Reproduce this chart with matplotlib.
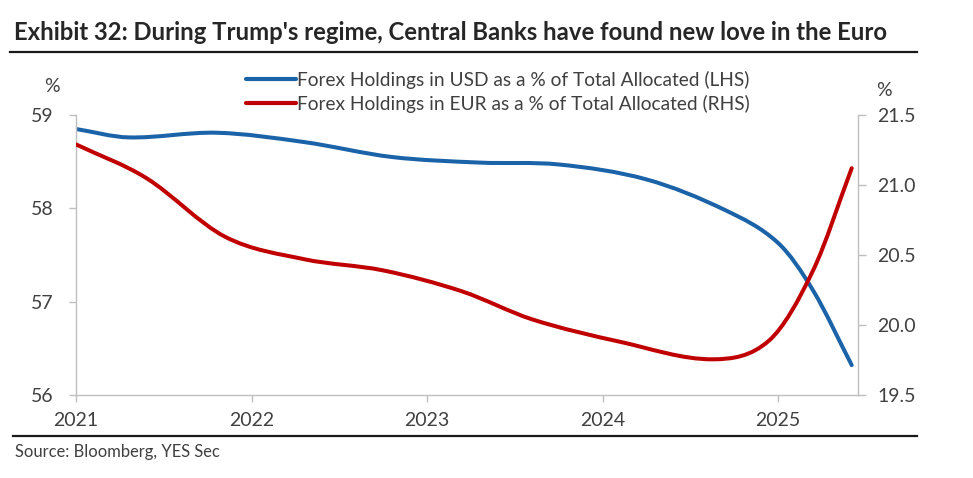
import matplotlib
matplotlib.use("Agg")
import numpy as np
import matplotlib.pyplot as plt
from matplotlib.lines import Line2D
from matplotlib.path import Path
from matplotlib.patches import PathPatch

# ---- data ----
usd_x = [2021.00, 2021.30, 2021.80, 2022.30, 2022.80, 2023.30, 2023.75,
         2024.25, 2024.70, 2025.00, 2025.20, 2025.42]
usd_y = [58.85, 58.76, 58.81, 58.71, 58.55, 58.49, 58.47,
         58.31, 57.98, 57.63, 57.12, 56.32]

eur_x = [2021.00, 2021.40, 2021.85, 2022.30, 2022.75, 2023.20, 2023.60,
         2024.10, 2024.63, 2024.95, 2025.20, 2025.42]
eur_y = [21.29, 21.05, 20.63, 20.47, 20.39, 20.24, 20.04,
         19.88, 19.755, 19.89, 20.39, 21.12]

year_ticks = [2021, 2022, 2023, 2024, 2025]
lhs_ticks = [56, 57, 58, 59]
rhs_ticks = [19.5, 20.0, 20.5, 21.0, 21.5]

title = "Exhibit 32: During Trump's regime, Central Banks have found new love in the Euro"
usd_label = "Forex Holdings in USD as a % of Total Allocated (LHS)"
eur_label = "Forex Holdings in EUR as a % of Total Allocated (RHS)"
source = "Source: Bloomberg, YES Sec"

BLUE = "#1b63a8"
RED = "#c00000"
GREY_TXT = "#404040"
SPINE = "#bfbfbf"

plt.rcParams['font.family'] = ['Lato', 'DejaVu Sans']


def smooth_path(xs, ys):
    """Smoothed (Excel-like) line through the data points as cubic Bezier segments."""
    x = np.asarray(xs, float)
    y = np.asarray(ys, float)
    n = len(x)
    m = np.zeros(n)
    m[0] = (y[1] - y[0]) / (x[1] - x[0])
    m[-1] = (y[-1] - y[-2]) / (x[-1] - x[-2])
    for i in range(1, n - 1):
        m[i] = (y[i + 1] - y[i - 1]) / (x[i + 1] - x[i - 1])
    verts = [(x[0], y[0])]
    codes = [Path.MOVETO]
    for i in range(n - 1):
        h = x[i + 1] - x[i]
        verts += [(x[i] + h / 3, y[i] + m[i] * h / 3),
                  (x[i + 1] - h / 3, y[i + 1] - m[i + 1] * h / 3),
                  (x[i + 1], y[i + 1])]
        codes += [Path.CURVE4] * 3
    return Path(verts, codes)


W, H = 973, 478
fig = plt.figure(figsize=(W / 100, H / 100), dpi=100)
ax = fig.add_axes([76 / W, 1 - 395 / H, (858 - 76) / W, (395 - 115) / H])
ax2 = ax.twinx()

ax.add_patch(PathPatch(smooth_path(usd_x, usd_y), facecolor='none', edgecolor=BLUE,
                       lw=2.9, capstyle='round', joinstyle='round'))
ax2.add_patch(PathPatch(smooth_path(eur_x, eur_y), facecolor='none', edgecolor=RED,
                        lw=2.9, capstyle='round', joinstyle='round'))

ax.set_xlim(2021.0, 2021 + (858 - 76) / 175.5)
ax.set_ylim(56, 59)
ax2.set_ylim(19.5, 21.5)
ax.set_xticks(year_ticks)
ax.set_xticklabels([str(y) for y in year_ticks])
ax.set_yticks(lhs_ticks)
ax.set_yticklabels([str(v) for v in lhs_ticks])
ax2.set_yticks(rhs_ticks)
ax2.set_yticklabels([f"{v:.1f}" for v in rhs_ticks])

for a in (ax, ax2):
    a.spines['top'].set_visible(False)
    for s in ('left', 'right', 'bottom'):
        a.spines[s].set_color(SPINE)
        a.spines[s].set_linewidth(1.0)
ax.spines['right'].set_visible(False)
ax2.spines['left'].set_visible(False)
ax2.spines['bottom'].set_visible(False)

ax.tick_params(axis='x', colors=SPINE, length=5, width=1, labelcolor=GREY_TXT,
               labelsize=14, pad=7)
ax.tick_params(axis='y', colors=SPINE, length=5, width=1, labelcolor=GREY_TXT,
               labelsize=14, pad=11)
ax2.tick_params(axis='y', colors=SPINE, length=6, width=1, labelcolor=GREY_TXT,
                labelsize=14, pad=8)

# % unit labels
fig.text(52 / W, 1 - 87 / H, "%", ha='center', va='center', fontsize=14, color=GREY_TXT)
fig.text(884 / W, 1 - 90 / H, "%", ha='center', va='center', fontsize=14, color=GREY_TXT)

# legend
handles = [Line2D([0], [0], color=BLUE, lw=3, solid_capstyle='round'),
           Line2D([0], [0], color=RED, lw=3, solid_capstyle='round')]
leg = fig.legend(handles, [usd_label, eur_label], loc='center left',
                 bbox_to_anchor=(246 / W, 1 - 92 / H), frameon=False,
                 fontsize=13.8, handlelength=2.6, handletextpad=0.08,
                 labelspacing=0.3, borderpad=0, borderaxespad=0)
for t in leg.get_texts():
    t.set_color(GREY_TXT)

# title and rules
fig.text(14 / W, 1 - 32 / H, title, ha='left', va='center', fontsize=17.2,
         fontweight='bold', color="#262626")
fig.add_artist(Line2D([10 / W, 917 / W], [1 - 52 / H, 1 - 52 / H], color='#1a1a1a', lw=1.6))
fig.add_artist(Line2D([13 / W, 917 / W], [1 - 436 / H, 1 - 436 / H], color='#1a1a1a', lw=1.6))
fig.text(15 / W, 1 - 452 / H, source, ha='left', va='center', fontsize=11.9, color=GREY_TXT)

fig.savefig("out.png", dpi=100)
